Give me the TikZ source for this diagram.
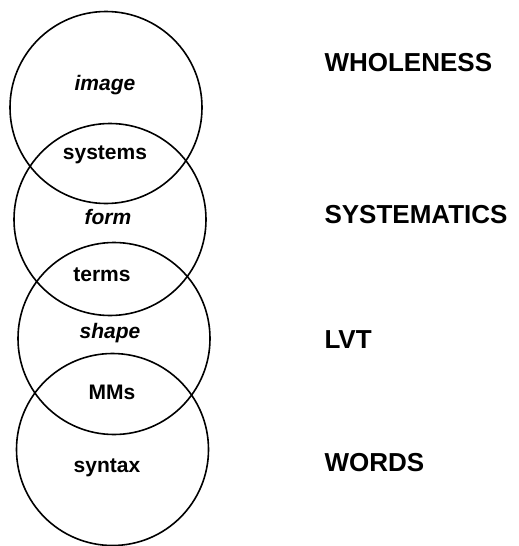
\documentclass[tikz,border=0pt]{standalone}
\usepackage{fontspec}
\setmainfont{Liberation Sans}
\usetikzlibrary{positioning}

\begin{document}
\begin{tikzpicture}[
  x=1pt, y=-1pt,
  ring/.style={
    circle, draw=black, line width=1.6pt, minimum size=192pt,
    inner sep=0pt
  },
  inlbl/.style={font=\fontsize{21}{24}\selectfont\bfseries},
  inlbli/.style={inlbl, font=\fontsize{21}{24}\selectfont\bfseries\itshape},
  side/.style={anchor=west, font=\fontsize{26}{30}\selectfont\bfseries},
]
  \useasboundingbox (0,0) rectangle (519,546);

  % stacked circles
  \node[ring] (c1) at (106,107.5) {};
  \node[ring] (c2) at (110,219.5) {};
  \node[ring] (c3) at (114,338.5) {};
  \node[ring] (c4) at (112.5,449.5) {};

  % texts inside
  \node[inlbli] (image) at (105,85) {image};
  \node[inlbl] (systems) at (105,155) {systems};
  \node[inlbli] (form) at (108,217) {form};
  \node[inlbl] (terms) at (102,275) {terms};
  \node[inlbli] (shape) at (110,333) {shape};
  \node[inlbl] (mms) at (112,392) {MMs};
  \node[inlbl] (syntax) at (107,468) {syntax};

  % levels on the right
  \node[side] (whole) at (321,63) {WHOLENESS};
  \node[side] (syst) at (321,215) {SYSTEMATICS};
  \node[side] (lvt) at (321,340) {LVT};
  \node[side] (words) at (321,463) {WORDS};
\end{tikzpicture}
\end{document}
